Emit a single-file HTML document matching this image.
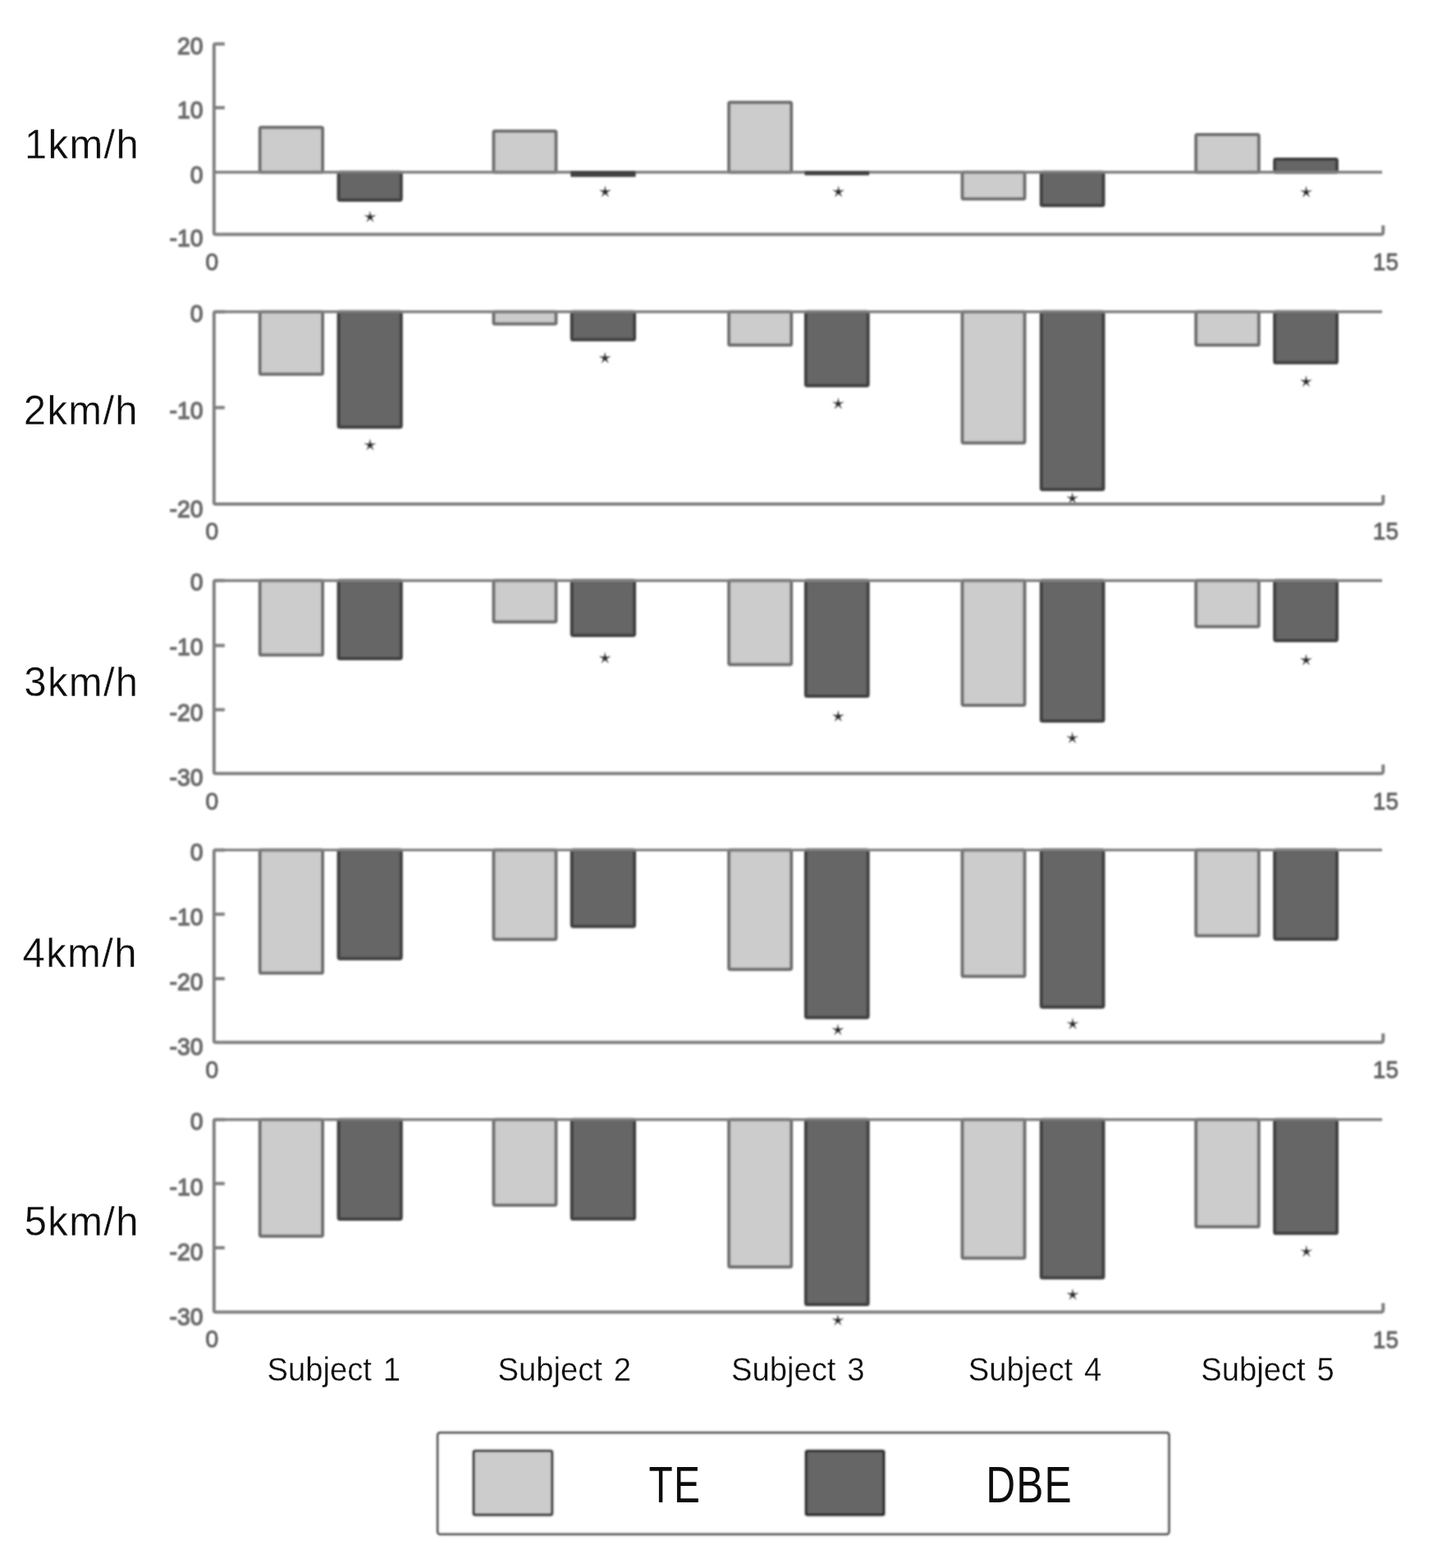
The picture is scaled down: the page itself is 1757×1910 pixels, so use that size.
<!DOCTYPE html>
<html lang="en">
<head>
<meta charset="utf-8">
<title>TE vs DBE per subject and walking speed</title>
<style>
html,body{margin:0;padding:0;background:#fff;}
body{width:1757px;height:1910px;overflow:hidden;}
svg{display:block;}
text{font-family:"Liberation Sans",sans-serif;}
.tk{font-size:28px;fill:#6c6c6c;stroke:#6c6c6c;stroke-width:1.35px;stroke-linejoin:round;}
.tx{fill:#5e5e5e;stroke:#5e5e5e;stroke-width:0.8px;}
.sp{font-size:49px;fill:#0c0c0c;stroke:#fff;stroke-width:0.35px;letter-spacing:1.35px;}
.sb{font-size:41.3px;fill:#0c0c0c;stroke:#fff;stroke-width:0.3px;}
.lg{font-size:62.5px;fill:#0c0c0c;}
</style>
</head>
<body>
<svg width="1757" height="1910" viewBox="0 0 1757 1910">
<defs>
<filter id="bl" x="-2%" y="-2%" width="104%" height="104%"><feGaussianBlur stdDeviation="1.30"/></filter>
<filter id="bt" x="-2%" y="-2%" width="104%" height="104%"><feGaussianBlur stdDeviation="0.6"/></filter>
<filter id="bm" x="-2%" y="-5%" width="104%" height="110%"><feGaussianBlur stdDeviation="1.0"/></filter>
</defs>
<rect width="1757" height="1910" fill="#fff"/>
<g filter="url(#bl)">
<g>
<polygon points="450.9,256.7 452.1,262.8 458.3,262.1 452.9,265.2 455.5,270.8 450.9,266.6 446.3,270.8 448.9,265.2 443.5,262.1 449.7,262.8" fill="#262626"/>
<polygon points="737.3,226.0 738.5,232.1 744.7,231.4 739.3,234.5 741.9,240.1 737.3,235.9 732.7,240.1 735.3,234.5 729.9,231.4 736.1,232.1" fill="#262626"/>
<polygon points="1021.6,226.0 1022.8,232.1 1029.0,231.4 1023.6,234.5 1026.2,240.1 1021.6,235.9 1017.0,240.1 1019.6,234.5 1014.2,231.4 1020.4,232.1" fill="#262626"/>
<polygon points="1591.5,226.3 1592.7,232.4 1598.9,231.7 1593.5,234.8 1596.1,240.4 1591.5,236.2 1586.9,240.4 1589.5,234.8 1584.1,231.7 1590.3,232.4" fill="#262626"/>
<path d="M273.8 53.6 H262.8 Q260.8 53.6 260.8 55.6 V283.5 Q260.8 285.5 262.8 285.5 H1682.3 Q1685.3 285.5 1685.3 282.5 V274.5" fill="none" stroke="#808080" stroke-width="4" stroke-linejoin="round"/>
<line x1="260.8" y1="131.2" x2="273.8" y2="131.2" stroke="#808080" stroke-width="4"/>
<rect x="316.75" y="155.35" width="76.30" height="54.45" rx="1.6" fill="#cccccc" stroke="#6e6e6e" stroke-width="4.0" stroke-linejoin="round"/>
<rect x="412.55" y="209.80" width="76.20" height="33.85" rx="1.6" fill="#666666" stroke="#3f3f3f" stroke-width="4.0" stroke-linejoin="round"/>
<rect x="601.55" y="159.75" width="75.90" height="50.05" rx="1.6" fill="#cccccc" stroke="#6e6e6e" stroke-width="4.0" stroke-linejoin="round"/>
<rect x="888.15" y="124.75" width="76.00" height="85.05" rx="1.6" fill="#cccccc" stroke="#6e6e6e" stroke-width="4.0" stroke-linejoin="round"/>
<rect x="1172.55" y="209.80" width="75.90" height="32.55" rx="1.6" fill="#cccccc" stroke="#6e6e6e" stroke-width="4.0" stroke-linejoin="round"/>
<rect x="1268.75" y="209.80" width="75.70" height="40.55" rx="1.6" fill="#666666" stroke="#3f3f3f" stroke-width="4.0" stroke-linejoin="round"/>
<rect x="1457.25" y="164.05" width="76.50" height="45.75" rx="1.6" fill="#cccccc" stroke="#6e6e6e" stroke-width="4.0" stroke-linejoin="round"/>
<rect x="1553.15" y="194.05" width="75.80" height="15.75" rx="1.6" fill="#666666" stroke="#3f3f3f" stroke-width="4.0" stroke-linejoin="round"/>
<line x1="260.8" y1="209.8" x2="1684.0" y2="209.8" stroke="#808080" stroke-width="3.4"/>
<rect x="695.20" y="208.20" width="79.40" height="7.20" rx="1.2" fill="#3f3f3f"/>
<rect x="980.30" y="208.20" width="78.90" height="5.30" rx="1.2" fill="#3f3f3f"/>
<text class="tk" transform="translate(247.4 65.9) scale(1.01 1.07)" text-anchor="end">20</text>
<text class="tk" transform="translate(247.4 144.1) scale(1.01 1.07)" text-anchor="end">10</text>
<text class="tk" transform="translate(247.4 222.6) scale(1.01 1.07)" text-anchor="end">0</text>
<text class="tk" transform="translate(247.4 300.3) scale(1.01 1.07)" text-anchor="end">-10</text>
<text class="tk tx" transform="translate(258.2 328.8) scale(1.03 1.07)" text-anchor="middle">0</text>
<text class="tk tx" transform="translate(1688.4 328.8) scale(1.0 1.07)" text-anchor="middle">15</text>
</g>
<g>
<polygon points="450.9,534.5 452.1,540.6 458.3,539.9 452.9,543.0 455.5,548.6 450.9,544.4 446.3,548.6 448.9,543.0 443.5,539.9 449.7,540.6" fill="#262626"/>
<polygon points="737.1,428.5 738.3,434.6 744.5,433.9 739.1,437.0 741.7,442.6 737.1,438.4 732.5,442.6 735.1,437.0 729.7,433.9 735.9,434.6" fill="#262626"/>
<polygon points="1021.3,484.1 1022.5,490.2 1028.7,489.5 1023.3,492.6 1025.9,498.2 1021.3,494.0 1016.7,498.2 1019.3,492.6 1013.9,489.5 1020.1,490.2" fill="#262626"/>
<polygon points="1306.6,599.3 1307.8,605.4 1314.0,604.7 1308.6,607.8 1311.2,613.4 1306.6,609.2 1302.0,613.4 1304.6,607.8 1299.2,604.7 1305.4,605.4" fill="#262626"/>
<polygon points="1591.4,457.2 1592.6,463.3 1598.8,462.6 1593.4,465.7 1596.0,471.3 1591.4,467.1 1586.8,471.3 1589.4,465.7 1584.0,462.6 1590.2,463.3" fill="#262626"/>
<path d="M273.8 379.8 H262.8 Q260.8 379.8 260.8 381.8 V611.9 Q260.8 613.9 262.8 613.9 H1682.3 Q1685.3 613.9 1685.3 610.9 V602.9" fill="none" stroke="#808080" stroke-width="4" stroke-linejoin="round"/>
<line x1="260.8" y1="496.5" x2="273.8" y2="496.5" stroke="#808080" stroke-width="4"/>
<rect x="316.75" y="379.80" width="76.30" height="75.95" rx="1.6" fill="#cccccc" stroke="#6e6e6e" stroke-width="4.0" stroke-linejoin="round"/>
<rect x="412.55" y="379.80" width="76.20" height="140.55" rx="1.6" fill="#666666" stroke="#3f3f3f" stroke-width="4.0" stroke-linejoin="round"/>
<rect x="601.55" y="379.80" width="75.90" height="14.75" rx="1.6" fill="#cccccc" stroke="#6e6e6e" stroke-width="4.0" stroke-linejoin="round"/>
<rect x="696.75" y="379.80" width="76.30" height="33.95" rx="1.6" fill="#666666" stroke="#3f3f3f" stroke-width="4.0" stroke-linejoin="round"/>
<rect x="888.15" y="379.80" width="76.00" height="40.45" rx="1.6" fill="#cccccc" stroke="#6e6e6e" stroke-width="4.0" stroke-linejoin="round"/>
<rect x="981.85" y="379.80" width="75.80" height="89.85" rx="1.6" fill="#666666" stroke="#3f3f3f" stroke-width="4.0" stroke-linejoin="round"/>
<rect x="1172.55" y="379.80" width="75.90" height="159.65" rx="1.6" fill="#cccccc" stroke="#6e6e6e" stroke-width="4.0" stroke-linejoin="round"/>
<rect x="1268.75" y="379.80" width="75.70" height="216.55" rx="1.6" fill="#666666" stroke="#3f3f3f" stroke-width="4.0" stroke-linejoin="round"/>
<rect x="1457.25" y="379.80" width="76.50" height="40.45" rx="1.6" fill="#cccccc" stroke="#6e6e6e" stroke-width="4.0" stroke-linejoin="round"/>
<rect x="1553.15" y="379.80" width="75.80" height="62.05" rx="1.6" fill="#666666" stroke="#3f3f3f" stroke-width="4.0" stroke-linejoin="round"/>
<line x1="260.8" y1="379.8" x2="1684.0" y2="379.8" stroke="#808080" stroke-width="3.4"/>
<text class="tk" transform="translate(247.4 392.3) scale(1.01 1.07)" text-anchor="end">0</text>
<text class="tk" transform="translate(247.4 509.8) scale(1.01 1.07)" text-anchor="end">-10</text>
<text class="tk" transform="translate(247.4 629.8) scale(1.01 1.07)" text-anchor="end">-20</text>
<text class="tk tx" transform="translate(258.2 657.2) scale(1.03 1.07)" text-anchor="middle">0</text>
<text class="tk tx" transform="translate(1688.4 657.2) scale(1.0 1.07)" text-anchor="middle">15</text>
</g>
<g>
<polygon points="737.1,794.0 738.3,800.1 744.5,799.4 739.1,802.5 741.7,808.1 737.1,803.9 732.5,808.1 735.1,802.5 729.7,799.4 735.9,800.1" fill="#262626"/>
<polygon points="1021.3,865.0 1022.5,871.1 1028.7,870.4 1023.3,873.5 1025.9,879.1 1021.3,874.9 1016.7,879.1 1019.3,873.5 1013.9,870.4 1020.1,871.1" fill="#262626"/>
<polygon points="1306.6,891.3 1307.8,897.4 1314.0,896.7 1308.6,899.8 1311.2,905.4 1306.6,901.2 1302.0,905.4 1304.6,899.8 1299.2,896.7 1305.4,897.4" fill="#262626"/>
<polygon points="1591.4,796.4 1592.6,802.5 1598.8,801.8 1593.4,804.9 1596.0,810.5 1591.4,806.3 1586.8,810.5 1589.4,804.9 1584.0,801.8 1590.2,802.5" fill="#262626"/>
<path d="M273.8 707.3 H262.8 Q260.8 707.3 260.8 709.3 V940.3 Q260.8 942.3 262.8 942.3 H1682.3 Q1685.3 942.3 1685.3 939.3 V931.3" fill="none" stroke="#808080" stroke-width="4" stroke-linejoin="round"/>
<line x1="260.8" y1="786.3" x2="273.8" y2="786.3" stroke="#808080" stroke-width="4"/>
<line x1="260.8" y1="864.5" x2="273.8" y2="864.5" stroke="#808080" stroke-width="4"/>
<rect x="316.75" y="707.30" width="76.30" height="90.45" rx="1.6" fill="#cccccc" stroke="#6e6e6e" stroke-width="4.0" stroke-linejoin="round"/>
<rect x="412.55" y="707.30" width="76.20" height="95.05" rx="1.6" fill="#666666" stroke="#3f3f3f" stroke-width="4.0" stroke-linejoin="round"/>
<rect x="601.55" y="707.30" width="75.90" height="50.25" rx="1.6" fill="#cccccc" stroke="#6e6e6e" stroke-width="4.0" stroke-linejoin="round"/>
<rect x="696.75" y="707.30" width="76.30" height="66.65" rx="1.6" fill="#666666" stroke="#3f3f3f" stroke-width="4.0" stroke-linejoin="round"/>
<rect x="888.15" y="707.30" width="76.00" height="102.15" rx="1.6" fill="#cccccc" stroke="#6e6e6e" stroke-width="4.0" stroke-linejoin="round"/>
<rect x="981.85" y="707.30" width="75.80" height="140.75" rx="1.6" fill="#666666" stroke="#3f3f3f" stroke-width="4.0" stroke-linejoin="round"/>
<rect x="1172.55" y="707.30" width="75.90" height="151.65" rx="1.6" fill="#cccccc" stroke="#6e6e6e" stroke-width="4.0" stroke-linejoin="round"/>
<rect x="1268.75" y="707.30" width="75.70" height="171.05" rx="1.6" fill="#666666" stroke="#3f3f3f" stroke-width="4.0" stroke-linejoin="round"/>
<rect x="1457.25" y="707.30" width="76.50" height="55.85" rx="1.6" fill="#cccccc" stroke="#6e6e6e" stroke-width="4.0" stroke-linejoin="round"/>
<rect x="1553.15" y="707.30" width="75.80" height="72.85" rx="1.6" fill="#666666" stroke="#3f3f3f" stroke-width="4.0" stroke-linejoin="round"/>
<line x1="260.8" y1="707.3" x2="1684.0" y2="707.3" stroke="#808080" stroke-width="3.4"/>
<text class="tk" transform="translate(247.4 718.9) scale(1.01 1.07)" text-anchor="end">0</text>
<text class="tk" transform="translate(247.4 798.1) scale(1.01 1.07)" text-anchor="end">-10</text>
<text class="tk" transform="translate(247.4 877.9) scale(1.01 1.07)" text-anchor="end">-20</text>
<text class="tk" transform="translate(247.4 956.5) scale(1.01 1.07)" text-anchor="end">-30</text>
<text class="tk tx" transform="translate(258.2 985.6) scale(1.03 1.07)" text-anchor="middle">0</text>
<text class="tk tx" transform="translate(1688.4 985.6) scale(1.0 1.07)" text-anchor="middle">15</text>
</g>
<g>
<polygon points="1020.9,1246.9 1022.1,1253.0 1028.3,1252.3 1022.9,1255.4 1025.5,1261.0 1020.9,1256.8 1016.3,1261.0 1018.9,1255.4 1013.5,1252.3 1019.7,1253.0" fill="#262626"/>
<polygon points="1307.0,1239.6 1308.2,1245.7 1314.4,1245.0 1309.0,1248.1 1311.6,1253.7 1307.0,1249.5 1302.4,1253.7 1305.0,1248.1 1299.6,1245.0 1305.8,1245.7" fill="#262626"/>
<path d="M273.8 1035.4 H262.8 Q260.8 1035.4 260.8 1037.4 V1267.8 Q260.8 1269.8 262.8 1269.8 H1682.3 Q1685.3 1269.8 1685.3 1266.8 V1258.8" fill="none" stroke="#808080" stroke-width="4" stroke-linejoin="round"/>
<line x1="260.8" y1="1113.6" x2="273.8" y2="1113.6" stroke="#808080" stroke-width="4"/>
<line x1="260.8" y1="1192.1" x2="273.8" y2="1192.1" stroke="#808080" stroke-width="4"/>
<rect x="316.75" y="1035.40" width="76.30" height="149.85" rx="1.6" fill="#cccccc" stroke="#6e6e6e" stroke-width="4.0" stroke-linejoin="round"/>
<rect x="412.55" y="1035.40" width="76.20" height="132.25" rx="1.6" fill="#666666" stroke="#3f3f3f" stroke-width="4.0" stroke-linejoin="round"/>
<rect x="601.55" y="1035.40" width="75.90" height="108.75" rx="1.6" fill="#cccccc" stroke="#6e6e6e" stroke-width="4.0" stroke-linejoin="round"/>
<rect x="696.75" y="1035.40" width="76.30" height="93.05" rx="1.6" fill="#666666" stroke="#3f3f3f" stroke-width="4.0" stroke-linejoin="round"/>
<rect x="888.15" y="1035.40" width="76.00" height="145.25" rx="1.6" fill="#cccccc" stroke="#6e6e6e" stroke-width="4.0" stroke-linejoin="round"/>
<rect x="981.85" y="1035.40" width="75.80" height="204.05" rx="1.6" fill="#666666" stroke="#3f3f3f" stroke-width="4.0" stroke-linejoin="round"/>
<rect x="1172.55" y="1035.40" width="75.90" height="153.85" rx="1.6" fill="#cccccc" stroke="#6e6e6e" stroke-width="4.0" stroke-linejoin="round"/>
<rect x="1268.75" y="1035.40" width="75.70" height="191.25" rx="1.6" fill="#666666" stroke="#3f3f3f" stroke-width="4.0" stroke-linejoin="round"/>
<rect x="1457.25" y="1035.40" width="76.50" height="104.35" rx="1.6" fill="#cccccc" stroke="#6e6e6e" stroke-width="4.0" stroke-linejoin="round"/>
<rect x="1553.15" y="1035.40" width="75.80" height="108.55" rx="1.6" fill="#666666" stroke="#3f3f3f" stroke-width="4.0" stroke-linejoin="round"/>
<line x1="260.8" y1="1035.4" x2="1684.0" y2="1035.4" stroke="#808080" stroke-width="3.4"/>
<text class="tk" transform="translate(247.4 1047.5) scale(1.01 1.07)" text-anchor="end">0</text>
<text class="tk" transform="translate(247.4 1126.7) scale(1.01 1.07)" text-anchor="end">-10</text>
<text class="tk" transform="translate(247.4 1205.9) scale(1.01 1.07)" text-anchor="end">-20</text>
<text class="tk" transform="translate(247.4 1285.1) scale(1.01 1.07)" text-anchor="end">-30</text>
<text class="tk tx" transform="translate(258.2 1313.1) scale(1.03 1.07)" text-anchor="middle">0</text>
<text class="tk tx" transform="translate(1688.4 1313.1) scale(1.0 1.07)" text-anchor="middle">15</text>
</g>
<g>
<polygon points="1020.9,1600.7 1022.1,1606.8 1028.3,1606.1 1022.9,1609.2 1025.5,1614.8 1020.9,1610.6 1016.3,1614.8 1018.9,1609.2 1013.5,1606.1 1019.7,1606.8" fill="#262626"/>
<polygon points="1307.0,1569.4 1308.2,1575.5 1314.4,1574.8 1309.0,1577.9 1311.6,1583.5 1307.0,1579.3 1302.4,1583.5 1305.0,1577.9 1299.6,1574.8 1305.8,1575.5" fill="#262626"/>
<polygon points="1591.8,1516.8 1593.0,1522.9 1599.2,1522.2 1593.8,1525.3 1596.4,1530.9 1591.8,1526.7 1587.2,1530.9 1589.8,1525.3 1584.4,1522.2 1590.6,1522.9" fill="#262626"/>
<path d="M273.8 1363.8 H262.8 Q260.8 1363.8 260.8 1365.8 V1596.2 Q260.8 1598.2 262.8 1598.2 H1682.3 Q1685.3 1598.2 1685.3 1595.2 V1587.2" fill="none" stroke="#808080" stroke-width="4" stroke-linejoin="round"/>
<line x1="260.8" y1="1441.7" x2="273.8" y2="1441.7" stroke="#808080" stroke-width="4"/>
<line x1="260.8" y1="1519.9" x2="273.8" y2="1519.9" stroke="#808080" stroke-width="4"/>
<rect x="316.75" y="1363.80" width="76.30" height="141.85" rx="1.6" fill="#cccccc" stroke="#6e6e6e" stroke-width="4.0" stroke-linejoin="round"/>
<rect x="412.55" y="1363.80" width="76.20" height="121.15" rx="1.6" fill="#666666" stroke="#3f3f3f" stroke-width="4.0" stroke-linejoin="round"/>
<rect x="601.55" y="1363.80" width="75.90" height="104.15" rx="1.6" fill="#cccccc" stroke="#6e6e6e" stroke-width="4.0" stroke-linejoin="round"/>
<rect x="696.75" y="1363.80" width="76.30" height="120.95" rx="1.6" fill="#666666" stroke="#3f3f3f" stroke-width="4.0" stroke-linejoin="round"/>
<rect x="888.15" y="1363.80" width="76.00" height="179.35" rx="1.6" fill="#cccccc" stroke="#6e6e6e" stroke-width="4.0" stroke-linejoin="round"/>
<rect x="981.85" y="1363.80" width="75.80" height="225.25" rx="1.6" fill="#666666" stroke="#3f3f3f" stroke-width="4.0" stroke-linejoin="round"/>
<rect x="1172.55" y="1363.80" width="75.90" height="168.75" rx="1.6" fill="#cccccc" stroke="#6e6e6e" stroke-width="4.0" stroke-linejoin="round"/>
<rect x="1268.75" y="1363.80" width="75.70" height="192.75" rx="1.6" fill="#666666" stroke="#3f3f3f" stroke-width="4.0" stroke-linejoin="round"/>
<rect x="1457.25" y="1363.80" width="76.50" height="130.45" rx="1.6" fill="#cccccc" stroke="#6e6e6e" stroke-width="4.0" stroke-linejoin="round"/>
<rect x="1553.15" y="1363.80" width="75.80" height="138.45" rx="1.6" fill="#666666" stroke="#3f3f3f" stroke-width="4.0" stroke-linejoin="round"/>
<line x1="260.8" y1="1363.8" x2="1684.0" y2="1363.8" stroke="#808080" stroke-width="3.4"/>
<text class="tk" transform="translate(247.4 1375.9) scale(1.01 1.07)" text-anchor="end">0</text>
<text class="tk" transform="translate(247.4 1455.5) scale(1.01 1.07)" text-anchor="end">-10</text>
<text class="tk" transform="translate(247.4 1534.9) scale(1.01 1.07)" text-anchor="end">-20</text>
<text class="tk" transform="translate(247.4 1613.6) scale(1.01 1.07)" text-anchor="end">-30</text>
<text class="tk tx" transform="translate(258.2 1641.5) scale(1.03 1.07)" text-anchor="middle">0</text>
<text class="tk tx" transform="translate(1688.4 1641.5) scale(1.0 1.07)" text-anchor="middle">15</text>
</g>
</g>
<g filter="url(#bt)">
<text class="sp" transform="translate(30.0 192.8) scale(1 1.01)">1km/h</text>
<text class="sp" transform="translate(28.8 517.2) scale(1 1.01)">2km/h</text>
<text class="sp" transform="translate(29.3 847.6) scale(1 1.01)">3km/h</text>
<text class="sp" transform="translate(27.6 1178.2) scale(1 1.01)">4km/h</text>
<text class="sp" transform="translate(29.7 1504.6) scale(1 1.01)">5km/h</text>
<text class="sb" transform="translate(325.5 1681.7) scale(0.925 1)" word-spacing="3.5">Subject 1</text>
<text class="sb" transform="translate(606.5 1681.7) scale(0.925 1)" word-spacing="3.5">Subject 2</text>
<text class="sb" transform="translate(891.1 1681.7) scale(0.925 1)" word-spacing="3.5">Subject 3</text>
<text class="sb" transform="translate(1179.8 1681.7) scale(0.925 1)" word-spacing="3.5">Subject 4</text>
<text class="sb" transform="translate(1463.3 1681.7) scale(0.925 1)" word-spacing="3.5">Subject 5</text>
</g>
<g filter="url(#bm)">
<rect x="533.3" y="1745.2" width="891" height="123.6" rx="3" fill="#fff" stroke="#585858" stroke-width="3.0"/>
<rect x="577.00" y="1767.20" width="95.80" height="78.20" rx="2.2" fill="#cccccc" stroke="#464646" stroke-width="3.6"/>
<rect x="981.90" y="1767.20" width="95.30" height="78.20" rx="2.2" fill="#666666" stroke="#2e2e2e" stroke-width="3.6"/>
</g>
<g filter="url(#bt)">
<text class="lg" transform="translate(790.6 1830.4) scale(0.765 1)" letter-spacing="1.5">TE</text>
<text class="lg" transform="translate(1201.2 1830.4) scale(0.795 1)" letter-spacing="1.5">DBE</text>
</g>
</svg>
</body>
</html>
